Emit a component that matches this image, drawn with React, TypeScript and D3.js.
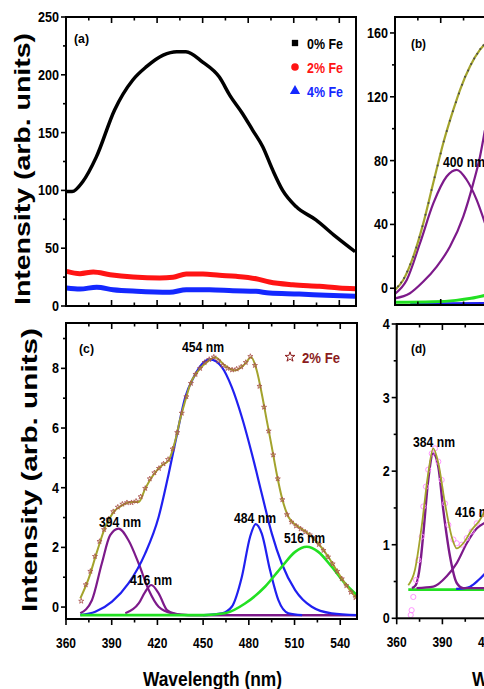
import React from "react";
import * as d3 from "d3";

type Pt = [number, number];

const W = 484;
const H = 689;
const FONT = "'Liberation Sans', Arial, Helvetica, sans-serif";

const wlDomain: [number, number] = [360, 551];
const wlTicks = [360, 390, 420, 450, 480, 510, 540];
const wlMinor = [375, 405, 435, 465, 495, 525];

// ---- panel (a): PL spectra
const aFe0: Pt[] = [
  [360, 99], [364, 99], [371, 107.5], [380, 129], [392, 169.6], [404, 195.5], [413, 207],
  [424, 217], [433, 220], [439, 220], [450, 211], [461, 198], [468, 182], [476, 167],
  [483, 152], [489.5, 138], [496, 118], [502.7, 100], [511.5, 86], [524.6, 74.5],
  [537.7, 60], [550.4, 47],
];
const aFe2: Pt[] = [
  [360.4, 30], [369.2, 28], [378, 29.4], [389, 27.1], [404.2, 25.1], [421.7, 24.2],
  [430.5, 24.8], [439.2, 27.7], [450.2, 27.7], [461, 26.6], [472, 25.7], [485.2, 23.6],
  [494, 20.8], [509.3, 18.4], [526.8, 17], [539.9, 15.6], [550.5, 15],
];
const aFe4: Pt[] = [
  [360.4, 15.6], [369.2, 14.7], [380.2, 16.2], [391, 14.1], [406.4, 12.7], [428.3, 11.8],
  [439.2, 14.1], [454.5, 14.1], [469.9, 13.2], [485.2, 12.7], [494, 11.2], [513.6, 10.4],
  [531.2, 9.3], [550.5, 8.4],
];
const aYTicks = [0, 50, 100, 150, 200, 250];
const aYMinor = [25, 75, 125, 175, 225];
const aLegendLabels = ["0% Fe", "2% Fe", "4% Fe"];
const aLegendColors = ["#000000", "#ff1414", "#1428ff"];

// ---- panel (b): 0% Fe deconvolution (only left part visible)
const bData: Pt[] = [
  [360, -1], [362, 1.2], [364, 3.6], [366, 6.5], [368, 10.5], [370, 15], [372, 19.8],
  [374, 25.5], [376, 32], [378, 38.8], [380, 46], [382, 53.5], [384, 61.5], [386, 69.5],
  [388, 77], [390, 84.5], [392, 92], [394, 98.5], [396, 105], [398, 111], [400, 116.5],
  [402, 122], [404, 127.5], [406, 132.5], [408, 136.5], [410, 140.5], [412, 144],
  [414, 147], [416, 150], [418, 152.3],
];
const bFit: Pt[] = [
  [360, -1.1], [365.4, 5.2], [372, 19.8], [378.6, 40.8], [385.1, 65.9], [391.7, 91],
  [398.3, 111.9], [402.7, 124.4], [409.2, 139], [415.8, 149.5], [419, 153],
];
const bPeak400: Pt[] = [
  [360, -3.5], [367.7, 5.2], [376.4, 28.2], [385.2, 53.3], [393.9, 70], [400.5, 74.2],
  [407, 68], [413.6, 55.4], [419, 41],
];
const bPeakNext: Pt[] = [
  [360, -6.3], [369.8, -3.1], [378.6, 4.2], [387.4, 13.6], [396.1, 26.1], [404.8, 44.9],
  [411.4, 65.9], [415.8, 82.6], [419, 99],
];
const bGreen: Pt[] = [[360, -8.8], [385, -8.5], [400, -7.6], [410, -6.3], [419, -4.5]];
const bBlue: Pt[] = [[370, -9.8], [419, -9.6]];
const bYTicks = [0, 40, 80, 120, 160];
const bYMinor = [20, 60, 100, 140];

// ---- panel (c): 2% Fe deconvolution
const cData: Pt[] = [
  [370, 0.2], [373, 0.75], [376, 1.2], [379, 1.7], [382, 2.2], [385, 2.6], [388, 2.95],
  [391, 3.2], [394, 3.35], [397, 3.45], [400, 3.5], [403, 3.5], [406, 3.55], [409, 3.7],
  [412, 3.98], [415, 4.3], [418, 4.5], [421, 4.65], [424, 4.8], [427, 4.95], [430, 5.3],
  [433, 5.85], [436, 6.5], [439, 7.05], [442, 7.5], [445, 7.8], [448, 8.0], [451, 8.2],
  [454, 8.3], [457, 8.38], [460, 8.25], [463, 8.1], [466, 8.0], [469, 7.95], [472, 7.98],
  [475, 8.05], [478, 8.2], [481, 8.4], [484, 8.1], [487, 7.4], [490, 6.7], [493, 5.9],
  [496, 5.1], [499, 4.3], [502, 3.6], [505, 3.1], [508, 2.85], [511, 2.72], [514, 2.62],
  [517, 2.52], [520, 2.42], [523, 2.28], [526, 2.1], [529, 1.9], [532, 1.68], [535, 1.45],
  [538, 1.2], [541, 0.95], [544, 0.72], [547, 0.5], [550, 0.32],
];
const cFit: Pt[] = [
  [369.4, 0.29], [374.9, 0.96], [380.3, 1.85], [385.8, 2.69], [391.3, 3.19], [396.8, 3.41],
  [403.3, 3.52], [407.7, 3.52], [412, 3.97], [416.4, 4.36], [423, 4.75], [427.4, 4.92],
  [431.8, 5.59], [435, 6.31], [438.3, 6.92], [441.6, 7.48], [447, 7.93], [453.7, 8.26],
  [457.8, 8.37], [464.4, 8.09], [471, 7.93], [477.5, 8.15], [481.5, 8.37], [485.2, 7.93],
  [488.5, 7.15], [491.8, 6.25], [495.1, 5.36], [498.3, 4.47], [501.6, 3.69], [506, 3.02],
  [512.5, 2.69], [519.1, 2.46], [525.6, 2.13], [532.2, 1.68], [538.8, 1.13], [545.4, 0.63],
  [550.9, 0.29],
];
const cPeak394: Pt[] = [
  [369.4, -0.21], [377, 0.23], [383.5, 1.46], [389, 2.41], [394.5, 2.63], [401, 2.24],
  [407.7, 1.46], [414.3, 0.57], [420.8, 0.01], [429.6, -0.21], [440.5, -0.27], [551, -0.27],
];
const cPeak416: Pt[] = [
  [398.9, -0.21], [407.7, 0.12], [412, 0.51], [416, 0.74], [420.8, 0.46], [426.3, -0.1],
  [431.8, -0.23], [440, -0.27], [551, -0.27],
];
const cPeak454: Pt[] = [
  [369.4, -0.27], [379.2, -0.16], [390.2, 0.18], [401, 0.79], [412, 1.8], [420.8, 3.02],
  [427.4, 4.47], [432.9, 5.81], [438.3, 7.04], [443.8, 7.7], [449.3, 8.15], [454.5, 8.3],
  [462.3, 8.04], [468.8, 7.37], [475.4, 6.37], [482, 5.14], [488.5, 3.8], [495.1, 2.46],
  [501.6, 1.46], [510.4, 0.57], [521.3, 0.01], [534.4, -0.21], [551, -0.27],
];
const cPeak484: Pt[] = [
  [450, -0.27], [462.3, -0.21], [468.8, 0.01], [475.4, 1.01], [480.8, 2.35], [484.5, 2.78],
  [488.5, 2.46], [493.9, 1.24], [499.4, 0.23], [506, -0.21], [515, -0.27],
];
const cPeak516: Pt[] = [
  [369.4, -0.27], [450.8, -0.27], [464.4, -0.21], [477.5, 0.12], [490.6, 0.68],
  [501.6, 1.35], [510.4, 1.85], [518, 2.02], [525.6, 1.85], [534.4, 1.35], [543.1, 0.79],
  [550.9, 0.4],
];
const cYTicks = [0, 2, 4, 6, 8];
const cYMinor = [1, 3, 5, 7, 9];

// ---- panel (d): 4% Fe deconvolution (only left part visible)
const dData: Pt[] = [
  [369.2, 0.045], [369.8, 0.11], [370.9, 0.29], [372.7, 0.52], [374.2, 0.79], [376.4, 1.11],
  [377.5, 1.52], [379.2, 1.79], [380.7, 2.02], [383, 2.24], [385.1, 2.31], [387.3, 2.13],
  [389.5, 1.88], [391.7, 1.56], [393.9, 1.27], [397.2, 1.07], [399.4, 1.02], [402.7, 1.0],
  [406, 1.09], [409.2, 1.18], [412.5, 1.29], [415.8, 1.41],
];
const dFit: Pt[] = [
  [367.6, 0.45], [372, 0.66], [376.4, 1.25], [380.7, 1.97], [384, 2.31], [387.3, 2.11],
  [391.7, 1.56], [396.1, 1.11], [399.4, 0.95], [403.7, 1.02], [409.2, 1.2], [414.7, 1.34],
  [418, 1.47],
];
const dPeak384: Pt[] = [
  [370, 0.41], [372.5, 0.45], [375.5, 0.75], [377.7, 1.2], [380.7, 1.88], [384, 2.24],
  [387.3, 2.06], [390.6, 1.47], [395, 0.84], [399.4, 0.48], [403.7, 0.41], [418, 0.41],
];
const dPeak416: Pt[] = [
  [373, 0.41], [384, 0.43], [392.8, 0.57], [399.4, 0.75], [406, 1.02], [412.5, 1.22],
  [418, 1.3],
];
const dBlue: Pt[] = [[399, 0.4], [405, 0.41], [408.2, 0.43], [413.7, 0.52], [418, 0.61]];
const dGreen: Pt[] = [[367.6, 0.39], [418, 0.39]];
const dYTicks = [0, 1, 2, 3, 4];
const dYMinor = [0.5, 1.5, 2.5, 3.5];

const PURPLE = "#7d1a8a";
const BLUE = "#2020f0";
const GREEN = "#22e022";
const OLIVE = "#a3a32c";

type Scale = d3.ScaleLinear<number, number>;

function Txt(props: {
  x: number; y: number; text: string; size: number; len?: number;
  anchor?: string; color?: string; weight?: string | number; rotate?: boolean;
}) {
  const { x, y, text, size, len, anchor = "start", color = "#000", weight = "bold", rotate } = props;
  return (
    <text
      x={x}
      y={y}
      fontFamily={FONT}
      fontSize={size}
      fontWeight={weight}
      fill={color}
      textAnchor={anchor}
      dominantBaseline="central"
      textLength={len}
      lengthAdjust="spacingAndGlyphs"
      transform={rotate ? `rotate(-90 ${x} ${y})` : undefined}
    >
      {text}
    </text>
  );
}

function curve(x: Scale, y: Scale, pts: Pt[]) {
  return d3
    .line<Pt>()
    .x((d) => x(d[0]))
    .y((d) => y(d[1]))
    .curve(d3.curveMonotoneX)(pts) as string;
}

type PanelProps = {
  id: string;
  left: number;
  top: number;
  width: number;
  height: number;
  yDomain: [number, number];
  yTicks: number[];
  yMinor: number[];
  xLabels: boolean;
  children: (x: Scale, y: Scale) => React.ReactNode;
};

function Panel(p: PanelProps) {
  const x = d3.scaleLinear().domain(wlDomain).range([p.left, p.left + p.width]);
  const y = d3.scaleLinear().domain(p.yDomain).range([p.top + p.height, p.top]);
  const bottom = p.top + p.height;
  const dir = p.xLabels ? 1 : -1;
  const tk = { stroke: "#000", strokeWidth: 1.6 };
  return (
    <g>
      <defs>
        <clipPath id={p.id}>
          <rect x={p.left} y={p.top} width={p.width} height={p.height} />
        </clipPath>
      </defs>
      <g clipPath={`url(#${p.id})`}>{p.children(x, y)}</g>
      <rect x={p.left} y={p.top} width={p.width} height={p.height} fill="none" stroke="#000" strokeWidth={2} />
      {p.yTicks.map((t) => (
        <g key={"yt" + t}>
          <line x1={p.left - 5} x2={p.left} y1={y(t)} y2={y(t)} {...tk} />
          <Txt x={p.left - 7} y={y(t)} text={String(t)} size={14} len={String(t).length * 7} anchor="end" />
        </g>
      ))}
      {p.yMinor.map((t) => (
        <line key={"ym" + t} x1={p.left - 3} x2={p.left} y1={y(t)} y2={y(t)} {...tk} />
      ))}
      {wlTicks.map((t) => (
        <g key={"xt" + t}>
          <line x1={x(t)} x2={x(t)} y1={bottom} y2={bottom + dir * 6} {...tk} />
          <line x1={x(t)} x2={x(t)} y1={p.top} y2={p.top + 6} {...tk} />
          {p.xLabels && (
            <Txt x={x(t)} y={bottom + 23} text={String(t)} size={15} len={20} anchor="middle" />
          )}
        </g>
      ))}
      {wlMinor.map((t) => (
        <g key={"xm" + t}>
          <line x1={x(t)} x2={x(t)} y1={bottom} y2={bottom + dir * 3.5} {...tk} />
          <line x1={x(t)} x2={x(t)} y1={p.top} y2={p.top + 3.5} {...tk} />
        </g>
      ))}
    </g>
  );
}

export default function App() {
  const star = d3.symbol().type(d3.symbolStar).size(8)() as string;
  const starBig = d3.symbol().type(d3.symbolStar).size(30)() as string;
  const sq = d3.symbol().type(d3.symbolSquare).size(40)() as string;
  const circ = d3.symbol().type(d3.symbolCircle).size(45)() as string;
  const tri = d3.symbol().type(d3.symbolTriangle).size(45)() as string;
  const legendSyms = [sq, circ, tri];

  return (
    <svg
      width={W}
      height={H}
      style={{ position: "absolute", left: 0, top: 0, background: "#fff", display: "block" }}
    >
      <rect x={0} y={0} width={W} height={H} fill="#fff" />

      {/* (a) */}
      <Panel id="pa" left={66} top={17} width={290} height={289} yDomain={[0, 250]} yTicks={aYTicks} yMinor={aYMinor} xLabels={false}>
        {(x, y) => (
          <g fill="none">
            <path d={curve(x, y, aFe2)} stroke={aLegendColors[1]} strokeWidth={5} />
            <path d={curve(x, y, aFe4)} stroke={aLegendColors[2]} strokeWidth={5} />
            <path d={curve(x, y, aFe0)} stroke="#000" strokeWidth={3.5} />
          </g>
        )}
      </Panel>
      <Txt x={74} y={38} text="(a)" size={13} len={15} weight={600} />
      {aLegendLabels.map((l, i) => (
        <g key={l}>
          <path d={legendSyms[i]} transform={`translate(295,${43 + i * 24})`} fill={aLegendColors[i]} />
          <Txt x={307} y={43 + i * 24} text={l} size={15} len={36} color={aLegendColors[i]} />
        </g>
      ))}

      {/* (b) */}
      <Panel id="pb" left={395} top={17} width={291} height={288} yDomain={[-10.5, 170]} yTicks={bYTicks} yMinor={bYMinor} xLabels={false}>
        {(x, y) => (
          <g fill="none">
            <path d={curve(x, y, bBlue)} stroke={BLUE} strokeWidth={3} />
            <path d={curve(x, y, bGreen)} stroke={GREEN} strokeWidth={3} />
            <path d={curve(x, y, bPeakNext)} stroke={PURPLE} strokeWidth={2.2} />
            <path d={curve(x, y, bPeak400)} stroke={PURPLE} strokeWidth={2.2} />
            <path d={curve(x, y, bFit)} stroke={OLIVE} strokeWidth={2.2} />
            {bData.map((d, i) => (
              <circle key={i} cx={x(d[0])} cy={y(d[1])} r={1} fill="#4a4a4a" />
            ))}
          </g>
        )}
      </Panel>
      <Txt x={411} y={43} text="(b)" size={13} len={15} weight={600} />
      <Txt x={443} y={162} text="400 nm" size={14} len={42} weight={600} />

      {/* (c) */}
      <Panel id="pc" left={66} top={323} width={291} height={296} yDomain={[-0.4, 9.52]} yTicks={cYTicks} yMinor={cYMinor} xLabels={true}>
        {(x, y) => (
          <g fill="none">
            <path d={curve(x, y, cPeak394)} stroke={PURPLE} strokeWidth={2.2} />
            <path d={curve(x, y, cPeak416)} stroke={PURPLE} strokeWidth={2.2} />
            <path d={curve(x, y, cPeak454)} stroke={BLUE} strokeWidth={2.2} />
            <path d={curve(x, y, cPeak484)} stroke={BLUE} strokeWidth={2.2} />
            <path d={curve(x, y, cPeak516)} stroke={GREEN} strokeWidth={2.6} />
            <path d={curve(x, y, cFit)} stroke={OLIVE} strokeWidth={2} />
            {cData.map((d, i) => (
              <path key={i} d={star} transform={`translate(${x(d[0])},${y(d[1])})`} stroke="#a8504a" strokeWidth={0.8} />
            ))}
          </g>
        )}
      </Panel>
      <Txt x={79} y={348} text="(c)" size={13} len={15} weight={600} />
      <Txt x={182} y={347} text="454 nm" size={14} len={42} weight={600} />
      <Txt x={99} y={522} text="394 nm" size={14} len={42} weight={600} />
      <Txt x={130} y={580} text="416 nm" size={14} len={42} weight={600} />
      <Txt x={234} y={518} text="484 nm" size={14} len={42} weight={600} />
      <Txt x={284} y={538} text="516 nm" size={14} len={41} weight={600} />
      <path d={starBig} transform="translate(290,357)" fill="none" stroke="#8b1c1c" strokeWidth={1} />
      <Txt x={302} y={357} text="2% Fe" size={15} len={38} color="#8b1c1c" />

      {/* (d) */}
      <Panel id="pd" left={396.7} top={324} width={291} height={294.3} yDomain={[0, 4]} yTicks={dYTicks} yMinor={dYMinor} xLabels={true}>
        {(x, y) => (
          <g fill="none">
            <path d={curve(x, y, dGreen)} stroke={GREEN} strokeWidth={2.6} />
            <path d={curve(x, y, dBlue)} stroke={BLUE} strokeWidth={2.2} />
            <path d={curve(x, y, dPeak416)} stroke={PURPLE} strokeWidth={2.2} />
            <path d={curve(x, y, dPeak384)} stroke={PURPLE} strokeWidth={2.4} />
            {dData.map((d, i) => (
              <circle key={i} cx={x(d[0])} cy={y(d[1])} r={2.6} stroke="#ff88ff" strokeWidth={0.9} />
            ))}
            <path d={curve(x, y, dFit)} stroke={OLIVE} strokeWidth={1.8} />
          </g>
        )}
      </Panel>
      <Txt x={411} y={348} text="(d)" size={13} len={15} weight={600} />
      <Txt x={413} y={442} text="384 nm" size={14} len={42} weight={600} />
      <Txt x={455} y={512} text="416 nm" size={14} len={42} weight={600} />

      {/* axis titles */}
      <Txt x={22} y={169} text="Intensity (arb. units)" size={22} len={272} anchor="middle" rotate />
      <Txt x={29} y={470} text="Intensity (arb. units)" size={22} len={284} anchor="middle" rotate />
      <Txt x={143} y={678} text="Wavelength (nm)" size={21} len={139} />
      <Txt x={472} y={678} text="Wavelength (nm)" size={21} len={139} />
    </svg>
  );
}
